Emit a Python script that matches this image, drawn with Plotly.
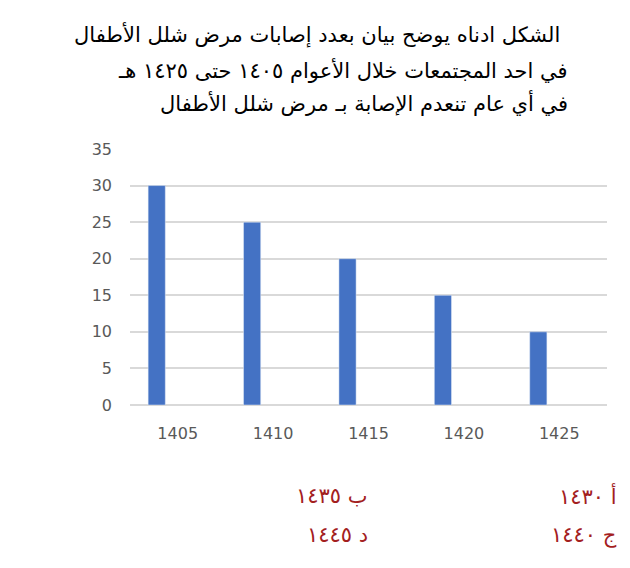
import plotly.graph_objects as go

years = ["1405", "1410", "1415", "1420", "1425"]
cases = [30, 25, 20, 15, 10]
y_ticks = [0, 5, 10, 15, 20, 25, 30, 35]
title_lines = [
    "الشكل ادناه يوضح بيان بعدد إصابات مرض شلل الأطفال",
    "في احد المجتمعات خلال الأعوام ١٤٠٥ حتى ١٤٢٥ هـ",
    "في أي عام تنعدم الإصابة بـ مرض شلل الأطفال",
]
choices = ["أ ١٤٣٠", "ب ١٤٣٥", "ج ١٤٤٠", "د ١٤٤٥"]

# page body has an 8px default margin
OFF = 8
W, H = 630 - OFF, 568 - OFF
L, T = 130 - OFF, 149 - OFF
R = W - (607.5 - OFF)
B = H - (405 - OFF)

fig = go.Figure()
fig.add_trace(go.Bar(
    x=years, y=cases, marker_color="#4472C4",
    width=0.18, offset=-0.31, hoverinfo="skip",
))

fig.update_layout(
    width=W, height=H,
    margin=dict(l=L, r=R, t=T, b=B),
    paper_bgcolor="white", plot_bgcolor="white",
    showlegend=False,
    font=dict(family="DejaVu Sans", color="#595959"),
    xaxis=dict(showgrid=False, tickfont=dict(size=16, color="#595959"),
               ticks="", showline=False, zeroline=False, ticklabelstandoff=17),
    yaxis=dict(range=[0, 35], tickvals=y_ticks, gridcolor="#D9D9D9", gridwidth=1.5,
               tickfont=dict(size=16, color="#595959"), zeroline=True,
               zerolinecolor="#D9D9D9", zerolinewidth=1.5, ticklabelstandoff=17,
               showline=False),
)

pw, ph = W - L - R, H - T - B


def px(xx):
    return (xx - OFF - L) / pw


def py(yy):
    return 1 - (yy - OFF - T) / ph


ann = []
title_y = [35, 70, 103]
title_x = [562, 570, 570]
for line, yy, xx in zip(title_lines, title_y, title_x):
    ann.append(dict(text=line, xref="paper", yref="paper",
                    x=px(xx), y=py(yy),
                    xanchor="right", yanchor="middle", showarrow=False,
                    font=dict(size=21, color="#000000", family="DejaVu Sans")))
pos = [(620, 496), (370, 496), (620, 535), (370, 535)]
for txt, (xx, yy) in zip(choices, pos):
    ann.append(dict(text=txt, xref="paper", yref="paper",
                    x=px(xx), y=py(yy),
                    xanchor="right", yanchor="middle", showarrow=False,
                    font=dict(size=21, color="#A3201E", family="DejaVu Sans")))
fig.update_layout(annotations=ann)

fig.write_html("out.html")
